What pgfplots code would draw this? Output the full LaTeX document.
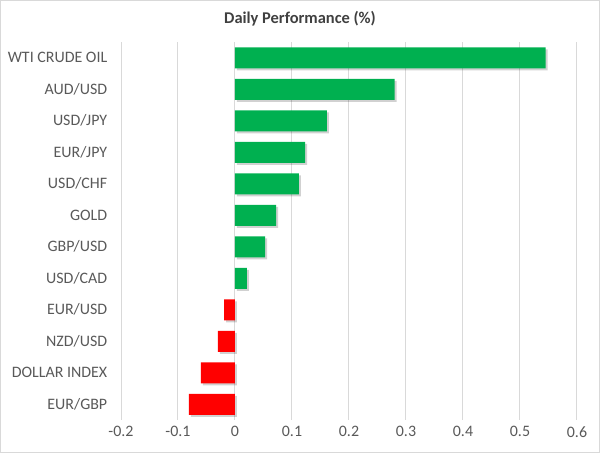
\documentclass[border=0pt]{standalone}
\usepackage{pgfplots}
\pgfplotsset{compat=1.18}
\usepackage{fontspec}
\setmainfont{Carlito}
\definecolor{barGreen}{HTML}{00B050}
\definecolor{barRed}{HTML}{FF0000}
\definecolor{gridGray}{HTML}{D9D9D9}
\definecolor{txtGray}{HTML}{595959}
\definecolor{titleGray}{HTML}{404040}

\begin{document}
\begin{tikzpicture}
% outer frame, 600 x 453
\draw[gridGray, line width=1bp] (0.5bp,0.5bp) rectangle (599.5bp,452.5bp);
\node[font=\fontsize{16.5}{19}\selectfont\bfseries, text=titleGray] at (300bp,434bp) {Daily Performance (\%)};
\begin{axis}[
    at={(121bp,33bp)}, anchor=south west,
    scale only axis,
    width=456bp, height=378bp,
    xmin=-0.2, xmax=0.6,
    ymin=-0.5, ymax=11.5,
    y dir=reverse,
    xtick={-0.2,-0.1,0,0.1,0.2,0.3,0.4,0.5,0.6},
    xticklabels={-0.2,-0.1,0,0.1,0.2,0.3,0.4,0.5,0.6},
    ytick={0,...,11},
    yticklabels={WTI CRUDE OIL,AUD/USD,USD/JPY,EUR/JPY,USD/CHF,GOLD,GBP/USD,USD/CAD,EUR/USD,NZD/USD,DOLLAR INDEX,EUR/GBP},
    xmajorgrids,
    grid style={gridGray, line width=1bp},
    axis line style={draw=none},
    tick style={draw=none},
    ticklabel style={font=\fontsize{16}{18}\selectfont, text=txtGray},
    yticklabel style={xshift=-6bp},
    xticklabel style={yshift=-3bp},
    xbar, bar width=21bp, bar shift=0pt,
]
% shadows
\addplot[fill=black, draw=none, opacity=0.18, xshift=2bp, yshift=-2bp] coordinates {
    (0.545,0) (0.28,1) (0.161,2) (0.123,3) (0.112,4) (0.072,5) (0.053,6) (0.021,7)
    (-0.019,8) (-0.030,9) (-0.060,10) (-0.081,11)
};
% gains
\addplot[fill=barGreen, draw=none] coordinates {
    (0.545,0) (0.28,1) (0.161,2) (0.123,3) (0.112,4) (0.072,5) (0.053,6) (0.021,7)
};
% losses
\addplot[fill=barRed, draw=none] coordinates {
    (-0.019,8) (-0.030,9) (-0.060,10) (-0.081,11)
};
\end{axis}
\end{tikzpicture}
\end{document}
